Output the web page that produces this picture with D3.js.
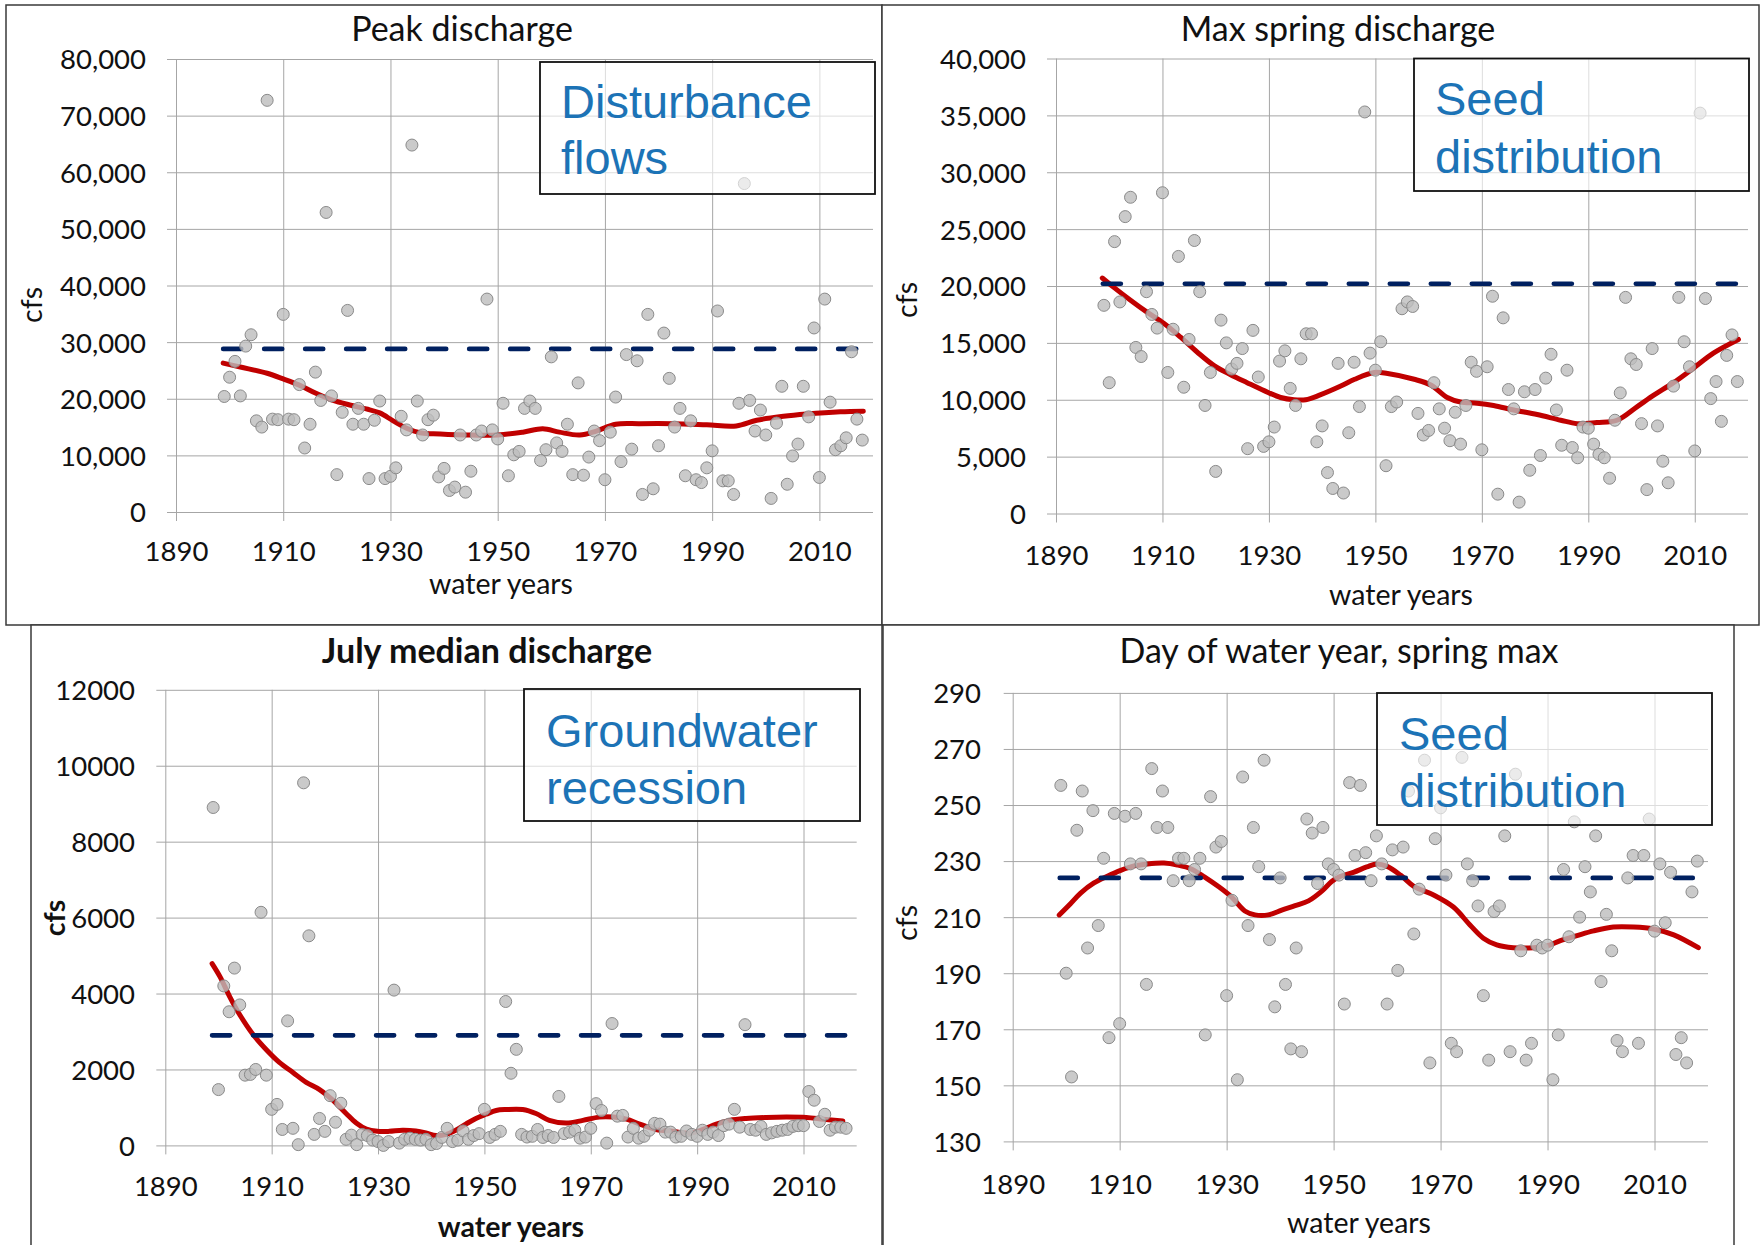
<!DOCTYPE html>
<html>
<head>
<meta charset="utf-8">
<script src="https://cdn.jsdelivr.net/npm/d3@7"></script>
<style>
  body { margin: 0; background: #fff; }
  svg { display: block; }
</style>
</head>
<body>
<script>
const W = 1763, H = 1245;

// water years, one value per year
const years = [
  1899, 1900, 1901, 1902, 1903, 1904, 1905, 1906, 1907, 1908,
  1909, 1910, 1911, 1912, 1913, 1914, 1915, 1916, 1917, 1918,
  1919, 1920, 1921, 1922, 1923, 1924, 1925, 1926, 1927, 1928,
  1929, 1930, 1931, 1932, 1933, 1934, 1935, 1936, 1937, 1938,
  1939, 1940, 1941, 1942, 1943, 1944, 1945, 1946, 1947, 1948,
  1949, 1950, 1951, 1952, 1953, 1954, 1955, 1956, 1957, 1958,
  1959, 1960, 1961, 1962, 1963, 1964, 1965, 1966, 1967, 1968,
  1969, 1970, 1971, 1972, 1973, 1974, 1975, 1976, 1977, 1978,
  1979, 1980, 1981, 1982, 1983, 1984, 1985, 1986, 1987, 1988,
  1989, 1990, 1991, 1992, 1993, 1994, 1995, 1996, 1997, 1998,
  1999, 2000, 2001, 2002, 2003, 2004, 2005, 2006, 2007, 2008,
  2009, 2010, 2011, 2012, 2013, 2014, 2015, 2016, 2017, 2018
];

const peakQ = [
  20400, 23800, 26600, 20500, 29300, 31300, 16100, 15000, 72700, 16400,
  16300, 34900, 16400, 16300, 22500, 11300, 15500, 24700, 19700, 52900,
  20500, 6600, 17600, 35600, 15500, 18300, 15500, 5900, 16200, 19600,
  5900, 6300, 7800, 16900, 14500, 64800, 19600, 13600, 16300, 17100,
  6200, 7700, 3800, 4400, 13600, 3500, 7200, 13600, 14300, 37600,
  14500, 12900, 19200, 6400, 10100, 10700, 18300, 19600, 18300, 9100,
  11000, 27400, 12200, 10700, 15500, 6600, 22800, 6500, 9700, 14300,
  12600, 5700, 14100, 20300, 8900, 27800, 11100, 26700, 3100, 34900,
  4100, 11700, 31600, 23600, 15000, 18300, 6400, 16100, 5700, 5200,
  7800, 10800, 35500, 5500, 5500, 3100, 19200, 58000, 19700, 14300,
  18000, 13600, 2400, 15700, 22200, 4900, 9900, 12000, 22200, 16800,
  32500, 6100, 37600, 19400, 11000, 11700, 13100, 28300, 16400, 12700
];

const springQ = [
  18300, 11500, 23900, 18600, 26100, 27800, 14600, 13800, 19500, 17500,
  16300, 28200, 12400, 16200, 22600, 11100, 15300, 24000, 19500, 9500,
  12400, 3700, 17000, 15000, 12700, 13200, 14500, 5700, 16100, 12000,
  5900, 6300, 7600, 13400, 14300, 11000, 9500, 13600, 15800, 15800,
  6300, 7700, 3600, 2200, 13200, 1800, 7100, 13300, 9400, 35300,
  14100, 12600, 15100, 4200, 9400, 9800, 18000, 18600, 18200, 8800,
  6900, 7300, 11500, 9200, 7500, 6400, 8900, 6100, 9500, 13300,
  12500, 5600, 12900, 19100, 1700, 17200, 10900, 9200, 1000, 10700,
  3800, 10900, 5100, 11900, 14000, 9100, 6000, 12600, 5800, 4900,
  7600, 7500, 6100, 5200, 4900, 3100, 8200, 10600, 19000, 13600,
  13100, 7900, 2100, 14500, 7700, 4600, 2700, 11200, 19000, 15100,
  12900, 5500, 35200, 18900, 10100, 11600, 8100, 13900, 15700, 11600
];

const julyQ = [
  8900, 1470, 4200, 3520, 4670, 3700, 1850, 1870, 2000, 6140,
  1850, 950, 1080, 420, 3280, 450, 20, 9550, 5520, 290,
  710, 370, 1310, 610, 1110, 160, 270, 20, 290, 260,
  140, 100, 0, 100, 4090, 60, 160, 190, 160, 140,
  160, 20, 50, 210, 450, 100, 140, 380, 160, 260,
  310, 950, 210, 290, 370, 3790, 1900, 2530, 290, 220,
  240, 420, 210, 260, 210, 1290, 310, 350, 400, 190,
  220, 450, 1100, 920, 60, 3210, 770, 790, 220, 450,
  190, 240, 400, 580, 560, 350, 350, 220, 240, 380,
  290, 240, 400, 290, 350, 260, 520, 560, 950, 480,
  3180, 420, 400, 500, 290, 330, 370, 400, 420, 500,
  520, 520, 1420, 1190, 630, 820, 400, 480, 480, 450
];

const springDay = [
  257, 190, 153, 241, 255, 199, 248, 207, 231, 167,
  247, 172, 246, 229, 247, 229, 186, 263, 242, 255,
  242, 223, 231, 231, 223, 227, 231, 168, 253, 235,
  237, 182, 216, 152, 260, 207, 242, 228, 266, 202,
  178, 224, 186, 163, 199, 162, 245, 240, 222, 242,
  229, 227, 225, 179, 258, 232, 257, 233, 223, 239,
  229, 179, 234, 191, 235, 255, 204, 220, 266, 158,
  238, 249, 225, 165, 162, 267, 229, 223, 214, 182,
  159, 212, 214, 239, 162, 261, 198, 159, 165, 200,
  199, 200, 152, 168, 227, 203, 244, 210, 228, 219,
  239, 187, 211, 198, 166, 162, 224, 232, 165, 232,
  245, 205, 229, 208, 226, 161, 167, 158, 219, 230
];

// smoothed trend curves, [year, value]
const peakTrend = [
  [1898.8, 26300], [1902, 25600], [1907, 24500], [1910, 23500], [1913, 22400],
  [1916, 21000], [1919.3, 19700], [1922.4, 18900], [1925.5, 18200], [1928, 17500],
  [1930.5, 16100], [1933, 14800], [1935.5, 14000], [1938, 13800], [1944, 13600],
  [1950, 13600], [1954.7, 14100], [1958.4, 14700], [1961.5, 14100], [1965.3, 13600],
  [1968.4, 14300], [1972, 15500], [1976.5, 15600], [1982.7, 15600], [1989, 15400],
  [1994.5, 15200], [1998.3, 16200], [2003.3, 16900], [2007.6, 17300], [2013.9, 17700],
  [2018.2, 17800]
];

const springTrend = [
  [1898.7, 20700], [1900.8, 19900], [1904, 18750], [1907.1, 17700], [1910.3, 16700],
  [1913.4, 15500], [1916.5, 14200], [1919.7, 13000], [1922.8, 12200], [1925.9, 11500],
  [1929.1, 10800], [1932.2, 10200], [1934.7, 10000], [1936.9, 10000], [1939.5, 10400],
  [1943.5, 11200], [1946.1, 11800], [1949.8, 12400], [1952.3, 12300], [1957.3, 11800],
  [1960.4, 11300], [1963.5, 10200], [1966, 9800], [1969.1, 9700], [1972.2, 9500],
  [1976, 9100], [1980.4, 8700], [1984.8, 8200], [1987.9, 7900], [1991.6, 8000],
  [1995.4, 8200], [1999.2, 9400], [2002.3, 10400], [2006, 11500], [2009.8, 12800],
  [2013.5, 14100], [2018.2, 15300]
];

const julyTrend = [
  [1898.8, 4790], [1900.3, 4440], [1902.1, 3920], [1904, 3440], [1906.5, 2920],
  [1909, 2520], [1911.5, 2180], [1914, 1920], [1916.5, 1660], [1919, 1470],
  [1921.5, 1190], [1924, 840], [1925.9, 590], [1927.8, 430], [1929.9, 370],
  [1932.1, 370], [1934.6, 400], [1937.1, 380], [1939, 330], [1940.9, 260],
  [1942.8, 290], [1944.6, 400], [1946.5, 560], [1948.4, 710], [1950.3, 820],
  [1952.2, 920], [1954.1, 945], [1957.2, 945], [1959.7, 840], [1962.2, 660],
  [1965.4, 590], [1968.5, 660], [1971.6, 745], [1974.2, 745], [1976.7, 690],
  [1979.2, 560], [1982.3, 420], [1985.4, 370], [1988.6, 320], [1991.1, 420],
  [1993.6, 560], [1996.1, 660], [1999.2, 710], [2003, 735], [2006.8, 745],
  [2010.5, 735], [2013.7, 690], [2017.4, 640]
];

const dayTrend = [
  [1898.7, 210.8], [1900.8, 214.8], [1902.7, 218.6], [1905.2, 222.2], [1907.7, 224.6],
  [1910.2, 226.7], [1912.7, 228.3], [1915.2, 229.0], [1918.3, 229.3], [1920.8, 228.6],
  [1923.4, 227.2], [1925.9, 224.3], [1928.4, 221.0], [1930.9, 217.2], [1933.4, 212.2],
  [1935.3, 210.8], [1937.8, 210.8], [1940.3, 212.5], [1942.8, 214.1], [1945.3, 215.8],
  [1947.8, 219.3], [1949.7, 222.8], [1951.2, 224.5], [1953.7, 226.0], [1956.2, 227.9],
  [1958.1, 229.0], [1960, 228.1], [1962.5, 225.0], [1965, 221.0], [1968.7, 217.9],
  [1972.4, 213.6], [1975.5, 207.2], [1978, 202.5], [1980.5, 200.1], [1983.6, 199.1],
  [1987.4, 199.1], [1989.9, 199.7], [1992.4, 201.6], [1995.5, 203.4], [1998.6, 205.1],
  [2002.3, 206.5], [2006.1, 206.5], [2009.8, 205.8], [2013.6, 203.7], [2018.2, 199.1]
];

// long-term reference level (dashed), and the years it spans
const peakRef = 28800, springRef = 20200, julyRef = 2900, dayRef = 224;
const refSpan = [1898.8, 2018.2];

const xDomain = [1890, 2020];
const xTicks = [1890, 1910, 1930, 1950, 1970, 1990, 2010];
const peakTicks = [0, 10000, 20000, 30000, 40000, 50000, 60000, 70000, 80000];
const springTicks = [0, 5000, 10000, 15000, 20000, 25000, 30000, 35000, 40000];
const julyTicks = [0, 2000, 4000, 6000, 8000, 10000, 12000];
const dayTicks = [130, 150, 170, 190, 210, 230, 250, 270, 290];

const FONT = "Lato, 'Open Sans', sans-serif";
const BOXFONT = "'Liberation Sans', Arial, sans-serif";

const svg = d3.select("body").append("svg")
  .attr("width", W)
  .attr("height", H);

const panels = [
  {
    values: peakQ, trend: peakTrend, ref: peakRef, ticks: peakTicks, fmt: d3.format(","),
    frame: [6, 5, 882, 625], px: [176, 873], py: [512, 59], tickRight: 146,
    title: "Peak discharge", titleX: 462, titleY: 41, xTickY: 561, xTitleX: 501, xTitleY: 594,
    yTitleX: 32, yTitleY: 305, bold: false,
    box: [540, 62, 335, 132], boxLines: ["Disturbance", "flows"], boxTextX: 561, boxTextY: [118, 174]
  },
  {
    values: springQ, trend: springTrend, ref: springRef, ticks: springTicks, fmt: d3.format(","),
    frame: [882, 5, 1759, 625], px: [1056, 1748], py: [513.5, 58.5], tickRight: 1026,
    title: "Max spring discharge", titleX: 1338, titleY: 41, xTickY: 565, xTitleX: 1401, xTitleY: 605,
    yTitleX: 907, yTitleY: 300, bold: false,
    box: [1414, 58.5, 335, 132.5], boxLines: ["Seed", "distribution"], boxTextX: 1435, boxTextY: [115, 173]
  },
  {
    values: julyQ, trend: julyTrend, ref: julyRef, ticks: julyTicks, fmt: d3.format("d"),
    frame: [31, 625, 882, 1262], px: [165.3, 856.7], py: [1145.4, 689.8], tickRight: 135,
    title: "July median discharge", titleX: 487, titleY: 663, xTickY: 1196, xTitleX: 511, xTitleY: 1237,
    yTitleX: 55, yTitleY: 918, bold: true,
    box: [524, 689, 336, 132], boxLines: ["Groundwater", "recession"], boxTextX: 546, boxTextY: [747, 804]
  },
  {
    values: springDay, trend: dayTrend, ref: dayRef, ticks: dayTicks, fmt: d3.format("d"),
    frame: [883, 625, 1734, 1262], px: [1012.7, 1708], py: [1141.4, 692.9], tickRight: 981,
    title: "Day of water year, spring max", titleX: 1339, titleY: 663, xTickY: 1194, xTitleX: 1359, xTitleY: 1233,
    yTitleX: 907, yTitleY: 923, bold: false,
    box: [1377, 693, 335, 132], boxLines: ["Seed", "distribution"], boxTextX: 1399, boxTextY: [750, 807]
  }
];

panels.forEach(drawPanel);

function drawPanel(p) {
  const g = svg.append("g");
  const x = d3.scaleLinear().domain(xDomain).range(p.px);
  const y = d3.scaleLinear().domain(d3.extent(p.ticks)).range(p.py);
  const w = p.px[1] - p.px[0];
  const h = p.py[0] - p.py[1];

  // outer frame of the panel
  g.append("rect")
    .attr("x", p.frame[0]).attr("y", p.frame[1])
    .attr("width", p.frame[2] - p.frame[0])
    .attr("height", p.frame[3] - p.frame[1])
    .attr("fill", "#fff")
    .attr("stroke", "#3a3a3a")
    .attr("stroke-width", 1.5);

  // y axis with horizontal gridlines
  const yAxis = g.append("g")
    .attr("transform", `translate(${p.px[0]},0)`)
    .call(d3.axisLeft(y).tickValues(p.ticks).tickFormat(p.fmt)
      .tickSize(-w).tickPadding(p.px[0] - p.tickRight));
  yAxis.select(".domain").remove();
  yAxis.selectAll("line").attr("x1", -9).attr("stroke", "#a6a6a6");
  yAxis.selectAll("text")
    .attr("font-family", FONT).attr("font-size", 27.5).attr("fill", "#111")
    .attr("dy", "0.36em");

  // x axis with vertical gridlines
  const xAxis = g.append("g")
    .attr("transform", `translate(0,${p.py[0]})`)
    .call(d3.axisBottom(x).tickValues(xTicks).tickFormat(d3.format("d")).tickSize(-h));
  xAxis.select(".domain").remove();
  xAxis.selectAll("line").attr("y1", 9).attr("stroke", "#a6a6a6");
  xAxis.selectAll("text")
    .attr("font-family", FONT).attr("font-size", 27.5).attr("fill", "#111")
    .attr("dy", 0).attr("y", p.xTickY - p.py[0]);

  // titles
  g.append("text")
    .attr("x", p.titleX).attr("y", p.titleY)
    .attr("text-anchor", "middle")
    .attr("font-family", FONT).attr("font-size", 34)
    .attr("font-weight", p.bold ? "bold" : "normal")
    .attr("fill", "#111")
    .text(p.title);

  g.append("text")
    .attr("x", p.xTitleX).attr("y", p.xTitleY)
    .attr("text-anchor", "middle")
    .attr("font-family", FONT).attr("font-size", 28.5)
    .attr("font-weight", p.bold ? "bold" : "normal")
    .attr("fill", "#111")
    .text("water years");

  g.append("text")
    .attr("transform", `translate(${p.yTitleX},${p.yTitleY}) rotate(-90)`)
    .attr("text-anchor", "middle")
    .attr("dy", "0.35em")
    .attr("font-family", FONT).attr("font-size", 28.5)
    .attr("font-weight", p.bold ? "bold" : "normal")
    .attr("fill", "#111")
    .text("cfs");

  // trend and reference lines
  const line = d3.line().x(d => x(d[0])).y(d => y(d[1]));

  g.append("path")
    .datum(p.trend)
    .attr("d", line.curve(d3.curveCatmullRom))
    .attr("fill", "none")
    .attr("stroke", "#c00000")
    .attr("stroke-width", 5)
    .attr("stroke-linecap", "round")
    .attr("stroke-linejoin", "round");

  g.append("path")
    .datum(refSpan.map(yr => [yr, p.ref]))
    .attr("d", d3.line().x(d => x(d[0])).y(d => y(d[1])))
    .attr("fill", "none")
    .attr("stroke", "#002060")
    .attr("stroke-width", 4.7)
    .attr("stroke-linecap", "round")
    .attr("stroke-dasharray", "18,23");

  // yearly values
  g.append("g")
    .selectAll("circle")
    .data(years.map((yr, i) => [yr, p.values[i]]))
    .join("circle")
    .attr("cx", d => x(d[0]))
    .attr("cy", d => y(d[1]))
    .attr("r", 6)
    .attr("fill", "#bdbdbd")
    .attr("fill-opacity", 0.8)
    .attr("stroke", "#8a8a8a")
    .attr("stroke-width", 1);

  // annotation box
  const b = p.box;
  g.append("rect")
    .attr("x", b[0]).attr("y", b[1])
    .attr("width", b[2]).attr("height", b[3])
    .attr("fill", "#fff").attr("fill-opacity", 0.62)
    .attr("stroke", "#111").attr("stroke-width", 1.8);

  g.append("g")
    .selectAll("text")
    .data(p.boxLines)
    .join("text")
    .attr("x", p.boxTextX)
    .attr("y", (d, i) => p.boxTextY[i])
    .attr("font-family", BOXFONT)
    .attr("font-size", 47)
    .attr("fill", "#1c73b6")
    .text(d => d);
}
</script>
</body>
</html>
